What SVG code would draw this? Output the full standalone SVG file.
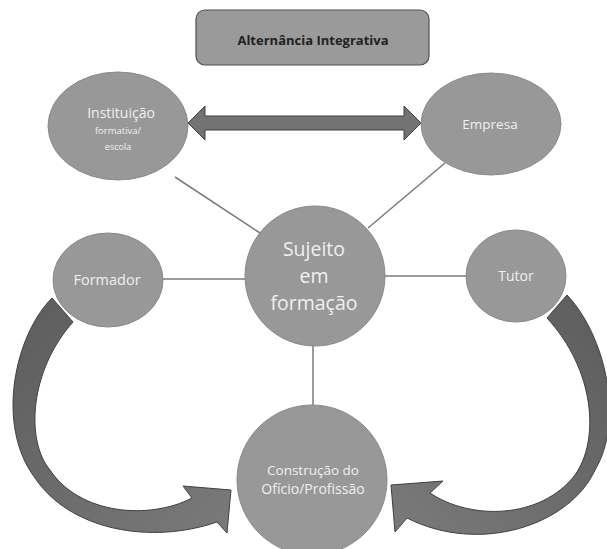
<svg xmlns="http://www.w3.org/2000/svg" width="607" height="549" viewBox="0 0 607 549">
<defs>
<style>
.node{fill:#989898;stroke:#8a8a8a;stroke-width:1}
.lbl{font-family:"Open Sans","Noto Sans",sans-serif;fill:#f0f0f0;text-anchor:middle}
.conn{stroke:#7a7a7a;stroke-width:1.5;fill:none}
.arr{stroke:#404040;stroke-width:1}
</style>
<linearGradient id="gl" x1="0" y1="0" x2="1" y2="1">
<stop offset="0" stop-color="#5c5c5c"/>
<stop offset="1" stop-color="#7a7a7a"/>
</linearGradient>
<linearGradient id="gr" x1="1" y1="0" x2="0" y2="1">
<stop offset="0" stop-color="#5c5c5c"/>
<stop offset="1" stop-color="#7a7a7a"/>
</linearGradient>
</defs>
<rect width="607" height="549" fill="#ffffff"/>
<g id="connectors">
<line class="conn" x1="175" y1="177" x2="260" y2="233"/>
<line class="conn" x1="445" y1="163" x2="368" y2="228"/>
<line class="conn" x1="160" y1="279" x2="248" y2="279"/>
<line class="conn" x1="384" y1="276" x2="468" y2="276"/>
<line class="conn" x1="313" y1="344" x2="313" y2="407"/>
<polygon class="arr" fill="#737373" points="188,123 205,106 205,116 404,116 404,106 421,123 404,140 404,130 205,130 205,140"/>
<path class="arr" fill="url(#gl)" d="M52,298 C15,335 -5,425 35,478 C70,530 150,545 217,522 L227,533 L231,490 L183,486 L192,498 C150,520 80,515 50,470 C25,440 30,370 73,322 Z"/>
<path class="arr" fill="url(#gr)" d="M567,295 C605,335 625,420 595,470 C570,525 480,555 407,518 L395,532 L391,485 L443,481 L430,493 C470,520 540,520 575,475 C600,440 595,370 547,318 Z"/>
</g>
<g id="title">
<rect x="196" y="10" width="233" height="55" rx="9" fill="#9a9a9a" stroke="#505050" stroke-width="1.2"/>
<text x="313" y="45" font-family="Open Sans, Noto Sans, sans-serif" font-weight="bold" font-size="13" fill="#222" text-anchor="middle">Alternância Integrativa</text>
</g>
<g id="instituicao">
<ellipse class="node" cx="118" cy="126" rx="70" ry="54"/>
<text class="lbl" x="121" y="118" font-size="14">Instituição</text>
<text class="lbl" x="118" y="134" font-size="9.5">formativa/</text>
<text class="lbl" x="118" y="150" font-size="9">escola</text>
</g>
<g id="empresa">
<ellipse class="node" cx="491" cy="124" rx="70" ry="51"/>
<text class="lbl" x="490" y="129" font-size="13.5">Empresa</text>
</g>
<g id="sujeito">
<circle class="node" cx="315" cy="276" r="70"/>
<text class="lbl" x="314" y="256" font-size="19.5">Sujeito</text>
<text class="lbl" x="314" y="283" font-size="19.5">em</text>
<text class="lbl" x="314" y="310" font-size="19.5">formação</text>
</g>
<g id="formador">
<ellipse class="node" cx="108" cy="280" rx="55" ry="47"/>
<text class="lbl" x="107" y="285" font-size="14.5">Formador</text>
</g>
<g id="tutor">
<ellipse class="node" cx="516" cy="276" rx="50" ry="46"/>
<text class="lbl" x="516" y="281" font-size="14">Tutor</text>
</g>
<g id="construcao">
<circle class="node" cx="312" cy="480" r="75"/>
<text class="lbl" x="313" y="475" font-size="13.5">Construção do</text>
<text class="lbl" x="313" y="494" font-size="14">Ofício/Profissão</text>
</g>
</svg>
